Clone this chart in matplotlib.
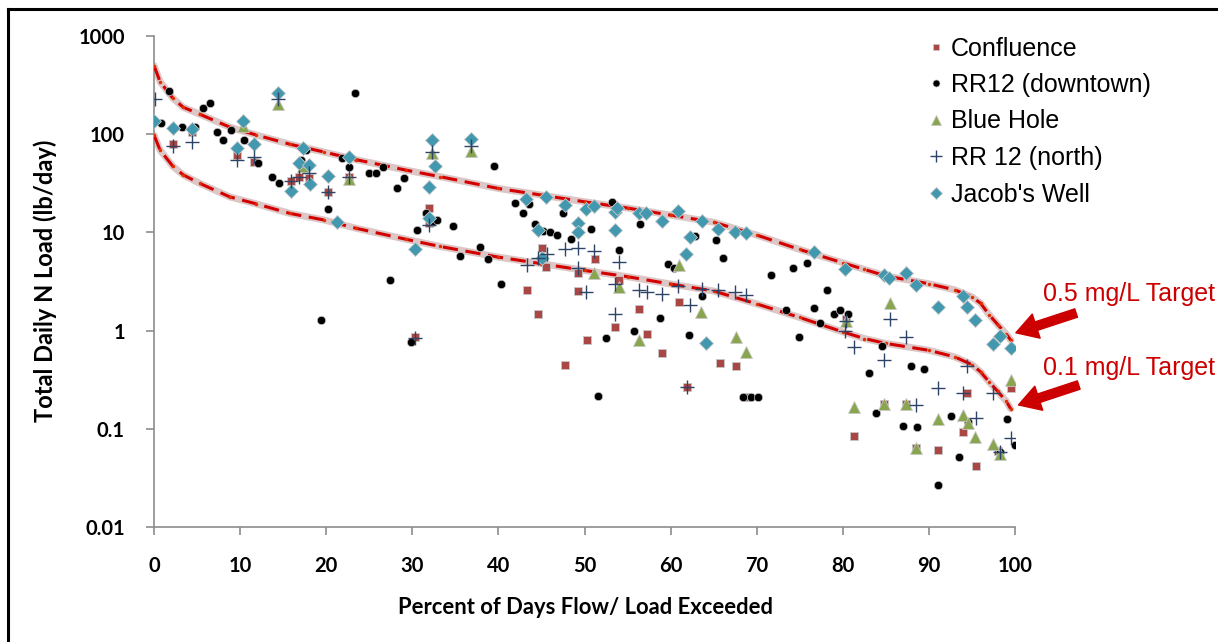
import matplotlib
matplotlib.use("Agg")
import matplotlib.pyplot as plt
from matplotlib.ticker import FixedLocator, FixedFormatter, NullLocator
from matplotlib.lines import Line2D

# ---------------- data ----------------
curve_pct = [0, 0.7, 2.2, 3.4, 5.3, 8.8, 11.9, 15.8, 19.7, 23.5, 29.3, 33.2, 40, 45, 50,
             55, 60, 65, 70, 75, 80, 82.5, 85, 90, 93, 95, 96, 97, 98, 99, 99.5]
target_05 = [500, 343, 232, 188, 160, 118, 98, 79, 66, 55, 43, 37, 28, 24, 20.5,
             17.7, 15, 12.7, 9.4, 6.7, 4.9, 4.2, 3.6, 3.0, 2.6, 2.2, 1.9, 1.45, 1.15, 0.92, 0.8]
target_01 = [98, 69, 47, 38.5, 31.6, 23, 19.5, 15.6, 13.4, 11, 8.5, 7.2, 5.6, 4.8, 4.1,
             3.54, 2.98, 2.53, 1.87, 1.36, 0.97, 0.83, 0.74, 0.63, 0.54, 0.45, 0.38, 0.3, 0.24, 0.19, 0.16]

conf_x = [2.2, 4.4, 9.6, 11.6, 15.9, 16.8, 18, 20.2, 22.6, 31.9, 31.9, 30.3, 43.3, 44.6, 45.1,
          45.5, 47.7, 49.3, 49.3, 50.3, 51.2, 53.5, 54, 56.3, 57.3, 59, 61, 61.9, 65.7, 67.6,
          68.9, 80.4, 81.3, 84.8, 87.3, 88.5, 91, 94, 94.4, 95.5, 98, 99.5]
conf_y = [79, 105, 61, 52.5, 33.3, 36.9, 35.5, 25.6, 36.9, 17.9, 12.6, 0.855, 2.59, 1.47, 6.9,
          4.47, 0.45, 3.9, 2.53, 0.8, 5.3, 1.09, 3.27, 1.65, 0.92, 0.59, 1.94, 0.265, 0.465, 0.44,
          0.21, 1.3, 0.085, 0.178, 0.178, 0.064, 0.061, 0.093, 0.233, 0.042, 0.06, 0.26]

dt_x = [0.8, 1.7, 3.3, 4.8, 5.65, 6.5, 7.3, 8.05, 8.9, 10.5, 12.1, 13.7, 14.5, 17.1, 17.7,
        19.4, 20.2, 21.8, 22.6, 23.3, 25, 25.8, 26.6, 27.4, 28.2, 29, 29.8, 30.6, 31.6, 32.3,
        32.9, 34.7, 35.5, 37.9, 38.8, 39.5, 40.3, 41.9, 42.8, 43.6, 44.3, 45.2, 46, 46.8, 47.5,
        48.4, 50.8, 51.6, 52.5, 53.2, 54, 55.7, 56.4, 58.8, 59.7, 60.4, 62.1, 62.8, 63.7, 65.3,
        66.1, 68.4, 69.3, 70.1, 71.7, 73.4, 74.2, 74.9, 75.8, 76.6, 77.4, 78.2, 79, 79.7, 80.6,
        83, 83.8, 84.6, 87, 87.9, 88.6, 89.4, 91.1, 92.6, 93.5, 94.5, 98.2, 99.1, 100]
dt_y = [131, 277, 119, 119, 184, 209, 106, 87, 110, 87, 51, 36.9, 31.6, 55, 69,
        1.28, 17.2, 56.8, 46.6, 261, 40.5, 40.5, 46.6, 3.27, 28, 35.5, 0.76, 10.6, 15.9, 12.8,
        13.4, 11.7, 5.75, 7.1, 5.36, 47.5, 2.98, 19.8, 15.9, 19.3, 12.2, 10.3, 10.2, 9.4, 15.6,
        8.5, 10.8, 0.216, 0.84, 20.5, 6.6, 0.98, 12.1, 1.35, 4.76, 4.3, 0.9, 9.2, 2.25, 8.4,
        5.45, 0.212, 0.212, 0.212, 3.68, 1.62, 4.3, 0.87, 4.9, 1.71, 1.2, 2.59, 1.47, 1.62, 1.47,
        0.37, 0.144, 0.69, 0.108, 0.44, 0.105, 0.41, 0.027, 0.136, 0.052, 0.118, 0.058, 0.125, 0.068]

bh_x = [10.3, 14.4, 17.3, 22.6, 32.3, 36.8, 51.1, 54, 56.3, 61, 63.5, 67.6, 68.8, 80.4, 81.3,
        84.8, 85.5, 87.3, 88.5, 91, 94, 94.5, 95.4, 97.5, 98.2, 99.5]
bh_y = [121, 203, 48, 34.7, 64, 68, 3.9, 2.8, 0.8, 4.65, 1.56, 0.87, 0.61, 1.26, 0.168,
        0.178, 1.9, 0.178, 0.064, 0.125, 0.138, 0.115, 0.083, 0.07, 0.055, 0.314]

nr_x = [0.1, 2.2, 4.4, 9.6, 11.6, 14.4, 15.9, 16.8, 18, 20.2, 22.6, 31.9, 32.3, 36.8, 30.3,
        43.3, 44.6, 45.6, 47.7, 49.3, 51.1, 54, 49.3, 50.2, 53.5, 53.6, 56.3, 57.3, 59, 60.9,
        62.2, 61.9, 63.6, 65.5, 67.5, 68.8, 80.4, 80.3, 81.3, 84.8, 85.5, 87.3, 88.5, 91, 94,
        94.4, 95.5, 97.5, 98.2, 99.5]
nr_y = [228, 75, 84, 55, 59, 226, 33, 37, 40, 25.6, 37, 12, 66, 75, 0.85,
        4.65, 5.5, 6.0, 6.7, 6.9, 6.45, 5.0, 4.3, 2.45, 1.47, 2.95, 2.59, 2.5, 2.35, 2.84,
        1.82, 0.265, 2.67, 2.59, 2.5, 2.3, 1.26, 1.0, 0.68, 0.5, 1.3, 0.855, 0.175, 0.26, 0.233,
        0.44, 0.128, 0.23, 0.058, 0.08]

jw_x = [0, 2.2, 4.4, 9.6, 10.3, 11.6, 14.4, 15.9, 16.8, 18, 17.3, 18.1, 20.2, 21.3, 22.6,
        30.3, 31.9, 32.3, 32.6, 31.9, 36.8, 43.2, 44.6, 45.5, 45.1, 47.7, 49.3, 49.3, 50.2, 51.1,
        53.5, 53.8, 53.5, 56.3, 57.2, 59, 60.9, 61.8, 62.2, 63.6, 64.1, 65.5, 67.5, 68.7, 76.6,
        80.3, 84.8, 85.4, 87.3, 88.5, 91, 94, 94.4, 95.4, 97.5, 98.2, 99.5]
jw_y = [137, 116, 113, 72, 137, 79, 261, 26.3, 50.6, 48.6, 72, 31, 37.5, 12.8, 59,
        6.7, 28.8, 87, 47.5, 14, 89, 21.7, 10.7, 22.8, 5.45, 19, 12.4, 10.2, 17.2, 18.7,
        16.2, 17.6, 10.6, 15.6, 15.6, 13.2, 16.6, 6.0, 8.9, 13.1, 0.74, 10.8, 10.2, 9.8, 6.35,
        4.24, 3.68, 3.4, 3.89, 2.91, 1.75, 2.25, 1.75, 1.27, 0.73, 0.88, 0.67]

y_ticks = [0.01, 0.1, 1, 10, 100, 1000]
y_tick_labels = ["0.01", "0.1", "1", "10", "100", "1000"]
x_ticks = [0, 10, 20, 30, 40, 50, 60, 70, 80, 90, 100]

# ---------------- figure ----------------
W, H = 1218, 642
fig = plt.figure(figsize=(W / 100, H / 100), dpi=100)
fig.patch.set_facecolor("white")
ax = fig.add_axes([154 / W, 1 - 527 / H, (1015 - 154) / W, (527 - 36) / H])
ax.set_yscale("log")
ax.set_xlim(0, 100)
ax.set_ylim(0.01, 1000)

# target curves
for ys in (target_05, target_01):
    ax.plot(curve_pct, ys, color="#dcc6c6", lw=5, solid_capstyle="round", zorder=2)
    ax.plot(curve_pct, ys, color="#d40000", lw=2.2, dashes=(5, 2.5), zorder=3)
    ax.plot(curve_pct, ys, ls="none", marker="o", ms=2.5, color="#e03000", mec="none", zorder=3)

edge = "#c8c8c8"
ax.plot(conf_x, conf_y, ls="none", marker="s", ms=5.5, color="#aa4643", mec=edge, mew=0.6,
        zorder=4, label="Confluence")
ax.plot(dt_x, dt_y, ls="none", marker="o", ms=6, color="black", mec=edge, mew=0.5,
        zorder=4, label="RR12 (downtown)")
ax.plot(bh_x, bh_y, ls="none", marker="^", ms=8, color="#89a54e", mec=edge, mew=0.6,
        zorder=4, label="Blue Hole")
ax.plot(nr_x, nr_y, ls="none", marker="+", ms=10, color="#2e4466", mew=1.0,
        zorder=5, label="RR 12 (north)")
ax.plot(jw_x, jw_y, ls="none", marker="D", ms=6.8, color="#4198af", mec=edge, mew=0.6,
        zorder=4, label="Jacob's Well")

# axes styling
for s in ("top", "right"):
    ax.spines[s].set_visible(False)
for s in ("left", "bottom"):
    ax.spines[s].set_color("#8c8c8c")
    ax.spines[s].set_linewidth(1.2)
ax.yaxis.set_major_locator(FixedLocator(y_ticks))
ax.yaxis.set_major_formatter(FixedFormatter(y_tick_labels))
ax.yaxis.set_minor_locator(NullLocator())
ax.set_xticks(x_ticks)
ax.tick_params(axis="both", which="major", color="#8c8c8c", width=1.2, length=6,
               direction="out")
ax.tick_params(axis="y", pad=15)
ax.tick_params(axis="x", pad=15)
for lab in ax.get_xticklabels() + ax.get_yticklabels():
    lab.set_fontfamily("Lato")
    lab.set_fontweight("bold")
    lab.set_fontsize(14.5)

fig.text(45 / W, 1 - 281 / H, "Total Daily N Load (lb/day)", rotation=90, ha="center",
         va="center", family="Lato", weight="bold", fontsize=17)
fig.text(585 / W, 1 - 608 / H, "Percent of Days Flow/ Load Exceeded", ha="center",
         va="center", family="Lato", weight="bold", fontsize=15.8)

leg = ax.legend(loc="upper left", bbox_to_anchor=(906 / W, 1 - 14 / H),
                bbox_transform=fig.transFigure, frameon=False, markerscale=0.85,
                handlelength=0.6, handletextpad=0.3, labelspacing=0.5,
                prop=dict(family="Liberation Sans", size=18))

# annotations
red = "#cc0000"
ax.text(103.3, 2.35, "0.5 mg/L Target", color=red, fontsize=18, family="Liberation Sans",
        va="center", ha="left", clip_on=False)
ax.text(103.3, 0.42, "0.1 mg/L Target", color=red, fontsize=18, family="Liberation Sans",
        va="center", ha="left", clip_on=False)
arrow = dict(arrowstyle="simple,head_width=1.3,head_length=1.1,tail_width=0.45",
             color=red, mutation_scale=14, shrinkA=0, shrinkB=0)
ax.annotate("", xy=(100.1, 0.95), xytext=(107.1, 1.51), arrowprops=arrow,
            annotation_clip=False)
ax.annotate("", xy=(100.4, 0.175), xytext=(107.4, 0.279), arrowprops=arrow,
            annotation_clip=False)

# outer frame (partially visible)
fig.add_artist(Line2D([8 / W, 8 / W], [0, 1 - 9 / H], color="black", lw=2.2,
                      transform=fig.transFigure))
fig.add_artist(Line2D([8 / W, 1], [1 - 9 / H, 1 - 9 / H], color="black", lw=2.2,
                      transform=fig.transFigure))

fig.savefig("out.png", dpi=100)
